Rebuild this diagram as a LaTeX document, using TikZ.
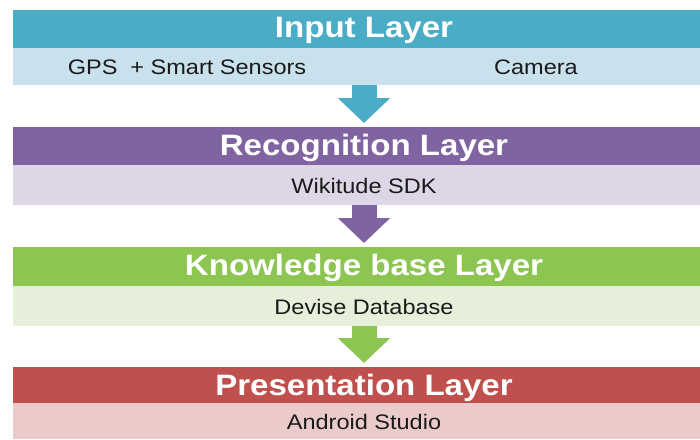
\documentclass[tikz,border=0pt]{standalone}
\usepackage{fontspec}
\setmainfont{Liberation Sans}
\usetikzlibrary{arrows.meta}
\definecolor{tealH}{HTML}{4BACC6}
\definecolor{tealS}{HTML}{C9E1EC}
\definecolor{purH}{HTML}{8064A2}
\definecolor{purS}{HTML}{DDD6E6}
\definecolor{grnH}{HTML}{8DC552}
\definecolor{grnS}{HTML}{E6EFD9}
\definecolor{redH}{HTML}{C0504D}
\definecolor{redS}{HTML}{EACBCA}
\definecolor{subtxt}{HTML}{1A1A1A}
\tikzset{
  head/.style={anchor=north west, inner sep=0pt, outer sep=0pt, minimum width=687pt},
  sub/.style={anchor=north west, inner sep=0pt, outer sep=0pt, minimum width=687pt},
  htxt/.style={anchor=base, inner sep=0pt, text=white, xscale=1.12, transform shape,
    font=\fontsize{29.5}{33}\selectfont\bfseries},
  lbl/.style={anchor=base, inner sep=0pt, text=subtxt, xscale=1.12, transform shape,
    font=\fontsize{21}{24}\selectfont},
  flow/.style={line width=25pt, -{Triangle[width=51pt,length=25pt]}, shorten >=4pt}
}
\begin{document}
\begin{tikzpicture}[x=1pt,y=-1pt]
\useasboundingbox[fill=white] (0,0) rectangle (700,439);
\coordinate (ax) at (364,0);
% Input layer
\node[head, fill=tealH, minimum height=38pt] (inh) at (13,10) {};
\node[htxt] (inht) at (364,37.5) {Input Layer};
\node[anchor=north west, inner sep=0pt, outer sep=0pt, fill=tealS, minimum width=351pt, minimum height=37pt] (ins1) at (13,48) {};
\node[anchor=north west, inner sep=0pt, outer sep=0pt, fill=tealS, minimum width=338pt, minimum height=37pt] (ins2) at (362,48) {};
\node[lbl] (gps) at (187,74) {GPS\hspace{0.55em}+ Smart Sensors};
\node[lbl] (cam) at (536,74) {Camera};
% Recognition layer
\node[head, fill=purH, minimum height=38pt] (reh) at (13,127) {};
\node[htxt] at (364,155) {Recognition Layer};
\node[sub, fill=purS, minimum height=40pt] (res) at (13,165) {};
\node[lbl] at (364,193) {Wikitude SDK};
% Knowledge layer
\node[head, fill=grnH, minimum height=39pt] (knh) at (13,247) {};
\node[htxt] at (364,275.5) {Knowledge base Layer};
\node[sub, fill=grnS, minimum height=40pt] (kns) at (13,286) {};
\node[lbl] at (364,314) {Devise Database};
% Presentation layer
\node[head, fill=redH, minimum height=36pt] (prh) at (13,367) {};
\node[htxt] at (364,395) {Presentation Layer};
\node[sub, fill=redS, minimum height=36pt] (prs) at (13,403) {};
\node[lbl] at (364,429) {Android Studio};
% arrows
\draw[flow, draw=tealH, fill=tealH] (ins2.south -| ax) -- (reh.north -| ax);
\draw[flow, draw=purH, fill=purH] (res.south -| ax) -- (knh.north -| ax);
\draw[flow, draw=grnH, fill=grnH] (kns.south -| ax) -- (prh.north -| ax);
\end{tikzpicture}
\end{document}
